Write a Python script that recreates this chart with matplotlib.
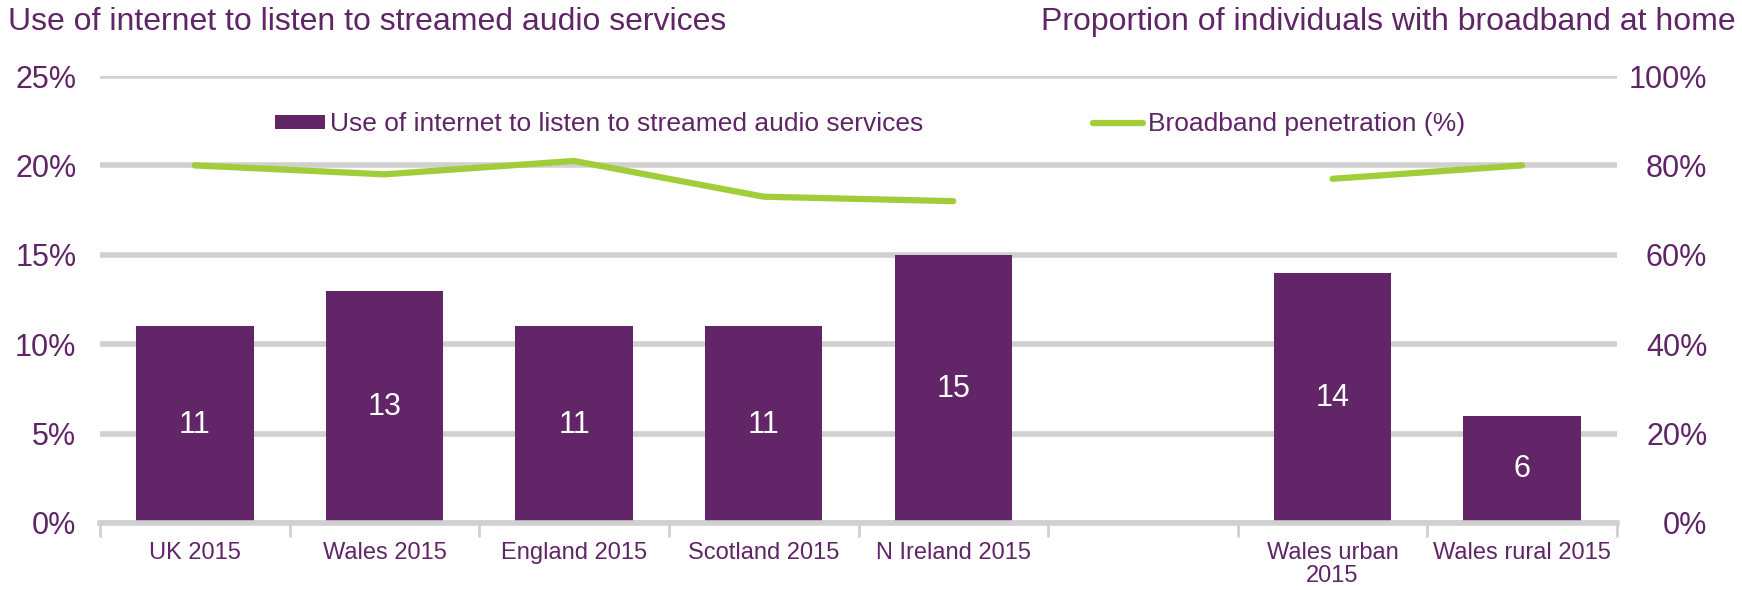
import numpy as np
import matplotlib.pyplot as plt
from matplotlib.ticker import FuncFormatter

plt.rcParams['font.family'] = ['Liberation Sans', 'DejaVu Sans']

# datos
categories = ['UK 2015', 'Wales 2015', 'England 2015', 'Scotland 2015',
              'N Ireland 2015', '', 'Wales urban\n2015', 'Wales rural 2015']
audio = [11, 13, 11, 11, 15, np.nan, 14, 6]
broadband = [80, 78, 81, 73, 72, np.nan, 77, 80]

purple = '#622567'
green = '#a2cd3a'
grid_c = '#d0d0d0'
txt = '#5f2566'

fig = plt.figure(figsize=(17.42, 5.9), dpi=100)
ax = fig.add_axes([100/1742, 1 - 523/590, (1617-100)/1742, (523-76)/590])
ax2 = ax.twinx()

x = np.arange(len(categories))
ax.bar(x, audio, width=0.62, color=purple, zorder=3,
       label='Use of internet to listen to streamed audio services')
for xi, v in zip(x, audio):
    if np.isfinite(v):
        ax.text(xi, v/2, f'{v:g}', ha='center', va='center', color='white',
                fontsize=22, zorder=4)

ax2.plot(x, broadband, color=green, lw=4.5, solid_capstyle='round',
         label='Broadband penetration (%)', zorder=5)

ax.set_ylim(0, 25)
ax2.set_ylim(0, 100)
ax.set_xlim(-0.5, len(categories) - 0.5)
ax.set_yticks(np.arange(0, 26, 5))
ax2.set_yticks(np.arange(0, 101, 20))
ax.yaxis.set_major_formatter(FuncFormatter(lambda v, p: f'{v:.0f}%'))
ax2.yaxis.set_major_formatter(FuncFormatter(lambda v, p: f'{v:.0f}%'))

ax.grid(axis='y', color=grid_c, lw=4, zorder=0)
ax.set_axisbelow(True)
for a in (ax, ax2):
    for s in ['top', 'left', 'right', 'bottom']:
        a.spines[s].set_visible(False)
    a.tick_params(axis='y', length=0, labelsize=22, labelcolor=txt)
ax.tick_params(axis='y', pad=17)
ax2.tick_params(axis='y', pad=65)
for lab in ax2.get_yticklabels():
    lab.set_horizontalalignment('right')

ax.spines['bottom'].set_visible(True)
ax.spines['bottom'].set_color(grid_c)
ax.spines['bottom'].set_linewidth(4)
ax.spines['bottom'].set_zorder(3)

# etiquetas de categoría en el centro, ticks en los bordes
ax.set_xticks(x)
ax.set_xticklabels(categories, fontsize=17, color=txt, linespacing=1.05)
ax.tick_params(axis='x', which='major', length=0, pad=14)
ax.set_xticks(np.arange(-0.5, len(categories)), minor=True)
ax.tick_params(axis='x', which='minor', length=10, width=2, color=grid_c,
               direction='out')

fig.text(8/1742, 1 - 22/590, 'Use of internet to listen to streamed audio services',
         fontsize=23, color=txt, va='center', ha='left')
fig.text(1736/1742, 1 - 22/590, 'Proportion of individuals with broadband at home',
         fontsize=23, color=txt, va='center', ha='right')

h1, l1 = ax.get_legend_handles_labels()
h2, l2 = ax2.get_legend_handles_labels()
fig.legend(h1 + h2, l1 + l2, loc='center', bbox_to_anchor=(870/1742, 1 - 124/590),
           ncol=2, frameon=False, fontsize=19, labelcolor=txt,
           handlelength=1.9, handleheight=0.45, handletextpad=0.2, columnspacing=6.4)

fig.savefig('out.png', dpi=100)
